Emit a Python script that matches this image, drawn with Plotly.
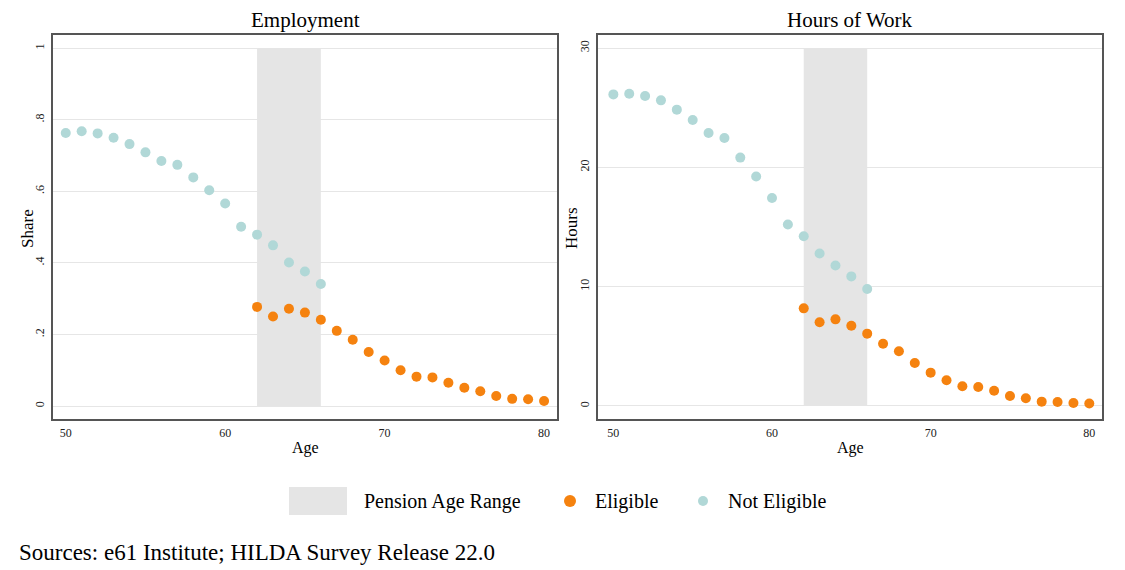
import plotly.graph_objects as go

# ---------------- data ----------------
ages_not_eligible = list(range(50, 67))
ages_eligible = list(range(62, 81))

emp_not_eligible = [0.763, 0.768, 0.762, 0.750, 0.732, 0.709, 0.685, 0.674, 0.639,
                    0.603, 0.566, 0.501, 0.479, 0.449, 0.401, 0.376, 0.341]
emp_eligible = [0.277, 0.250, 0.272, 0.261, 0.241, 0.210, 0.185, 0.151, 0.127, 0.100,
                0.082, 0.080, 0.065, 0.051, 0.041, 0.028, 0.020, 0.019, 0.014]

hrs_not_eligible = [26.12, 26.18, 25.98, 25.62, 24.84, 23.97, 22.89, 22.47, 20.82,
                    19.23, 17.44, 15.21, 14.23, 12.78, 11.78, 10.86, 9.80]
hrs_eligible = [8.18, 7.01, 7.26, 6.73, 6.06, 5.22, 4.58, 3.60, 2.79, 2.15,
                1.65, 1.59, 1.28, 0.84, 0.64, 0.36, 0.33, 0.25, 0.20]

pension_range = [62, 66]
emp_ticks = [0, 0.2, 0.4, 0.6, 0.8, 1]
emp_ticktext = ["0", ".2", ".4", ".6", ".8", "1"]
hrs_ticks = [0, 10, 20, 30]
x_ticks = [50, 60, 70, 80]

titles = ["Employment", "Hours of Work"]
y_titles = ["Share", "Hours"]
x_title = "Age"
legend_labels = ["Pension Age Range", "Eligible", "Not Eligible"]
source_text = "Sources: e61 Institute; HILDA Survey Release 22.0"

# ---------------- style ----------------
ORANGE = "#F5820F"
TEAL = "#B1D8D7"
SHADE = "#E5E5E5"
FRAME = "#555555"
GRID = "#E6E6E6"
FONT = "Liberation Serif"

# page has an 8px body margin: work in window pixels, convert to paper coords
OFF = 8
W, H = 1125 - OFF, 570 - OFF


def px(x):
    return (x - OFF) / W


def py(y):
    return 1 - (y - OFF) / H


fig = go.Figure()

fig.add_trace(go.Scatter(x=ages_not_eligible, y=emp_not_eligible, mode="markers",
                         marker=dict(color=TEAL, size=10), xaxis="x", yaxis="y",
                         showlegend=False, name="Not Eligible"))
fig.add_trace(go.Scatter(x=ages_eligible, y=emp_eligible, mode="markers",
                         marker=dict(color=ORANGE, size=10), xaxis="x", yaxis="y",
                         showlegend=False, name="Eligible"))
fig.add_trace(go.Scatter(x=ages_not_eligible, y=hrs_not_eligible, mode="markers",
                         marker=dict(color=TEAL, size=10), xaxis="x2", yaxis="y2",
                         showlegend=False, name="Not Eligible"))
fig.add_trace(go.Scatter(x=ages_eligible, y=hrs_eligible, mode="markers",
                         marker=dict(color=ORANGE, size=10), xaxis="x2", yaxis="y2",
                         showlegend=False, name="Eligible"))

# shaded pension range
fig.add_shape(type="rect", xref="x", yref="y", x0=pension_range[0], x1=pension_range[1],
              y0=emp_ticks[0], y1=emp_ticks[-1], fillcolor=SHADE, line_width=0, layer="between")
fig.add_shape(type="rect", xref="x2", yref="y2", x0=pension_range[0], x1=pension_range[1],
              y0=hrs_ticks[0], y1=hrs_ticks[-1], fillcolor=SHADE, line_width=0, layer="between")

ydom = [py(418.7), py(35)]
axis_common = dict(showline=True, mirror=True, linecolor=FRAME, linewidth=1.5,
                   ticks="", zeroline=False,
                   tickfont=dict(family=FONT, size=12, color="#222222"))

fig.update_layout(
    width=W, height=H,
    margin=dict(l=0, r=0, t=0, b=0),
    paper_bgcolor="white", plot_bgcolor="white",
    font=dict(family=FONT, color="black"),
    xaxis=dict(domain=[px(53.3), px(557.3)], range=[49.22, 80.83],
               tickvals=x_ticks, showgrid=False, anchor="y",
               ticklabelstandoff=2, **axis_common),
    yaxis=dict(domain=ydom, range=[-0.0355, 1.037], tickvals=emp_ticks,
               ticktext=emp_ticktext, tickangle=-90, showgrid=True, gridcolor=GRID,
               gridwidth=1, anchor="x", ticklabelstandoff=3, **axis_common),
    xaxis2=dict(domain=[px(598.3), px(1102.3)], range=[49.05, 80.82],
                tickvals=x_ticks, showgrid=False, anchor="y2",
                ticklabelstandoff=2, **axis_common),
    yaxis2=dict(domain=ydom, range=[-1.07, 31.1], tickvals=hrs_ticks, tickangle=-90,
                showgrid=True, gridcolor=GRID, gridwidth=1, anchor="x2",
                ticklabelstandoff=3, **axis_common),
)


def text(t, x, y, size, xanchor="center", angle=0):
    fig.add_annotation(text=t, x=px(x), y=py(y), xref="paper", yref="paper",
                       showarrow=False, xanchor=xanchor, yanchor="middle",
                       textangle=angle, font=dict(family=FONT, size=size, color="black"))


# subplot titles
text(titles[0], 305.3, 20, 21)
text(titles[1], 850.3, 20, 21)
# axis titles
text(x_title, 305.3, 448, 16)
text(x_title, 850.3, 448, 16)
text(y_titles[0], 27, 228, 17, angle=-90)
text(y_titles[1], 571, 228, 17, angle=-90)

# manual legend
fig.add_shape(type="rect", xref="paper", yref="paper",
              x0=px(289), x1=px(347), y0=py(515), y1=py(487),
              fillcolor=SHADE, line_width=0)
fig.add_shape(type="circle", xref="paper", yref="paper",
              x0=px(564), x1=px(576), y0=py(507), y1=py(495),
              fillcolor=ORANGE, line_width=0)
fig.add_shape(type="circle", xref="paper", yref="paper",
              x0=px(698), x1=px(708), y0=py(506), y1=py(496),
              fillcolor=TEAL, line_width=0)
for txt, xp in zip(legend_labels, [362, 593, 726]):
    text(txt, xp, 501, 20, xanchor="left")

# source note
text(source_text, 17, 552, 23, xanchor="left")

fig.write_html("out.html")
